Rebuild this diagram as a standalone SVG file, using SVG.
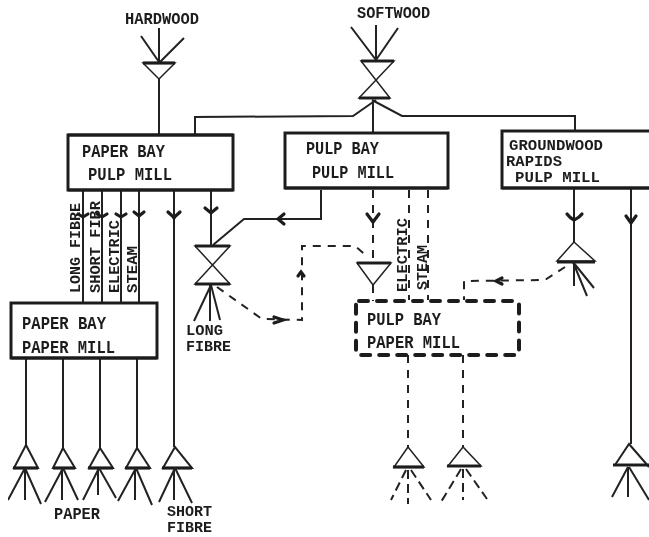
<svg xmlns="http://www.w3.org/2000/svg" width="649" height="537" viewBox="0 0 649 537">
<defs><filter id="soft" x="0" y="0" width="100%" height="100%"><feGaussianBlur stdDeviation="0.4"/></filter><style>
text{font-family:"Liberation Mono","DejaVu Sans Mono",monospace;font-weight:bold;fill:#1e1e1e}
.t{font-size:18px}.g{font-size:14.5px}.s{font-size:16px}.n{font-size:14px}.v{font-size:15px}
.box{fill:#fff;stroke:#1e1e1e;stroke-width:3}
.dbox{fill:none;stroke:#1e1e1e;stroke-width:4;stroke-dasharray:9 9;stroke-linecap:round}
.l{fill:none;stroke:#222;stroke-width:2}
.w{fill:none;stroke:#222;stroke-width:1.5}
.d{fill:none;stroke:#222;stroke-width:2;stroke-dasharray:8 7}
.o{fill:none;stroke:#222;stroke-width:2;stroke-dasharray:9 5}
.a{fill:none;stroke:#1e1e1e;stroke-width:3.2;stroke-linecap:round}
.base{fill:none;stroke:#1e1e1e;stroke-width:3.2}
</style></defs>
<rect width="649" height="537" fill="#fff"/>
<g filter="url(#soft)">
<g id="connectors">
<path class="l" d="M159 79V134"/>
<path class="l" d="M373 100V133M376 100L353 116L195 117V134M372 100L402 116H575V131"/>
<path class="l" d="M83 190V303M102 190V303M121 190V303M139 190V303M174 190V447M211 190V246"/>
<path class="a" d="M78 214L83 217L88 214M97 214L102 217L107 214M116 214L121 217L126 214M134 212L139 216L144 212M168 212C171 215 173 216 174 218C175 216 177 215 180 212M205 208L211 213L217 208"/>
<path class="l" d="M321 190V219H244L213 245"/>
<path class="a" d="M284 214L278 219L284 224"/>
<path class="d" d="M217 287L262 319L302 320V246H355L368 257"/>
<path class="a" d="M274 317L283 320L274 323"/>
<path class="a" d="M298 276L301 272L304 276"/>
<path class="d" d="M373 190V262"/>
<path class="a" d="M367 214L373 222L379 214"/>
<path class="d" d="M373 285V301"/>
<path class="d" d="M409 190V300M428 190V300"/>
<path class="l" d="M574 188V242"/>
<path class="a" d="M567 214C570 218 572 219 574 220C576 219 579 218 582 214"/>
<path class="l" d="M631 188V444"/>
<path class="a" d="M626 216L631 223L636 216"/>
<path class="d" d="M565 267L545 280L464 281V300"/>
<path class="a" d="M502 278L496 281L502 284"/>
<path class="l" d="M26 358V445M63 358V448M100 358V448M137 358V448"/>
<path class="d" d="M408 355V447M463 355V447"/>
</g>
<g id="hardwood-in">
<text class="s" x="125" y="24" textLength="74" lengthAdjust="spacingAndGlyphs">HARDWOOD</text>
<path class="l" d="M159 28V62M141 36L159 62M184 38L160 62"/>
<path class="w" d="M143 63H175L159 79Z"/><path class="base" d="M143 63H175"/>
</g>
<g id="softwood-valve">
<text class="s" x="357" y="18" textLength="73" lengthAdjust="spacingAndGlyphs">SOFTWOOD</text>
<path class="l" d="M351 27L376 60M376 25V60M398 28L376 60"/>
<path class="w" d="M361 61H394L359 98H390Z"/><path class="base" d="M361 61H394M359 98H390"/>
</g>
<g id="paper-bay-pulp-mill">
<rect class="box" x="68" y="135" width="165" height="55"/>
<path class="base" d="M68 135H233M68 190H233"/>
<text class="t" x="82" y="157" textLength="83" lengthAdjust="spacingAndGlyphs">PAPER BAY</text>
<text class="t" x="88" y="180" textLength="84" lengthAdjust="spacingAndGlyphs">PULP MILL</text>
</g>
<g id="pulp-bay-pulp-mill">
<rect class="box" x="285" y="133" width="163" height="55"/>
<path class="base" d="M285 188H448"/>
<text class="t" x="306" y="154" textLength="73" lengthAdjust="spacingAndGlyphs">PULP BAY</text>
<text class="t" x="312" y="178" textLength="82" lengthAdjust="spacingAndGlyphs">PULP MILL</text>
</g>
<g id="groundwood-rapids">
<rect class="box" x="502" y="131" width="150" height="57"/>
<path class="base" d="M502 188H649"/>
<text class="g" x="509" y="150" textLength="94" lengthAdjust="spacingAndGlyphs">GROUNDWOOD</text>
<text class="g" x="506" y="166" textLength="56" lengthAdjust="spacingAndGlyphs">RAPIDS</text>
<text class="g" x="515" y="182" textLength="85" lengthAdjust="spacingAndGlyphs">PULP MILL</text>
</g>
<g id="paper-bay-paper-mill">
<rect class="box" x="11" y="303" width="146" height="55"/>
<path class="base" d="M11 358H157"/>
<text class="t" x="22" y="329" textLength="84" lengthAdjust="spacingAndGlyphs">PAPER BAY</text>
<text class="t" x="22" y="353" textLength="93" lengthAdjust="spacingAndGlyphs">PAPER MILL</text>
</g>
<g id="pulp-bay-paper-mill">
<rect class="dbox" x="356" y="301" width="163" height="54" rx="3"/>
<text class="t" x="367" y="325" textLength="74" lengthAdjust="spacingAndGlyphs">PULP BAY</text>
<text class="t" x="367" y="348" textLength="93" lengthAdjust="spacingAndGlyphs">PAPER MILL</text>
</g>
<g id="stream-labels">
<text class="v" transform="translate(80 293) rotate(-90)" textLength="90" lengthAdjust="spacingAndGlyphs">LONG FIBRE</text>
<text class="v" transform="translate(100 293) rotate(-90)" textLength="92" lengthAdjust="spacingAndGlyphs">SHORT FIBR</text>
<text class="v" transform="translate(119 293) rotate(-90)" textLength="73" lengthAdjust="spacingAndGlyphs">ELECTRIC</text>
<text class="v" transform="translate(137 293) rotate(-90)" textLength="47" lengthAdjust="spacingAndGlyphs">STEAM</text>
<text class="v" transform="translate(407 292) rotate(-90)" textLength="74" lengthAdjust="spacingAndGlyphs">ELECTRIC</text>
<text class="v" transform="translate(427 290) rotate(-90)" textLength="45" lengthAdjust="spacingAndGlyphs">STEAM</text>
</g>
<g id="long-fibre-valve">
<path class="w" d="M195 246H230L195 284H230Z"/><path class="base" d="M195 246H230M195 284H230"/>
<path class="l" d="M211 285L194 321M210 285V321M211 285L220 320"/>
<text class="n" x="186" y="335" textLength="37" lengthAdjust="spacingAndGlyphs">LONG</text>
<text class="n" x="186" y="351" textLength="45" lengthAdjust="spacingAndGlyphs">FIBRE</text>
</g>
<g id="pulp-bay-valve">
<path class="w" d="M357 263H391L373 285Z"/><path class="base" d="M357 263H391"/>
</g>
<g id="groundwood-valve">
<path class="w" d="M574 242L557 261H595Z"/><path class="base" d="M557 262H595"/>
<path class="l" d="M574 262V286M573 262L594 288M573 262L587 296"/>
</g>
<g id="out-1"><path class="l" d="M26 445L14 468H38Z"/><path class="base" d="M13 468H38"/><path class="l" d="M25 468L8 500M25 468V500M25 468L41 504"/></g>
<g id="out-2"><path class="l" d="M63 448L53 468H75Z"/><path class="base" d="M53 468H75"/><path class="l" d="M63 468L45 502M62 468V500M63 468L78 500"/></g>
<g id="out-3"><path class="l" d="M100 448L89 468H113Z"/><path class="base" d="M88 468H113"/><path class="l" d="M99 468L83 500M98 468V495M99 468L116 498"/></g>
<g id="out-4"><path class="l" d="M137 448L126 468H150Z"/><path class="base" d="M125 468H150"/><path class="l" d="M136 468L118 501M135 468V500M136 468L152 505"/></g>
<g id="out-5"><path class="l" d="M175 447L163 468H192Z"/><path class="base" d="M162 468H192"/><path class="l" d="M175 468L159 502M174 468V500M175 468L192 503"/></g>
<g id="out-6"><path class="w" d="M408 447L394 467H424Z"/><path class="base" d="M393 467H424"/><path class="o" d="M406 470L391 500M408 470V504M411 470L431 500"/></g>
<g id="out-7"><path class="w" d="M463 447L448 466H481Z"/><path class="base" d="M447 466H481"/><path class="o" d="M461 469L441 502M463 469V500M466 469L487 499"/></g>
<g id="out-8"><path class="l" d="M615 465L629 444L649 467"/><path class="base" d="M613 465H649"/><path class="l" d="M628 467L612 497M628 467V497M629 467L649 500"/></g>
<g id="output-labels">
<text class="s" x="54" y="519" textLength="46" lengthAdjust="spacingAndGlyphs">PAPER</text>
<text class="n" x="167" y="516" textLength="45" lengthAdjust="spacingAndGlyphs">SHORT</text>
<text class="n" x="167" y="532" textLength="45" lengthAdjust="spacingAndGlyphs">FIBRE</text>
</g>
</g>
</svg>
